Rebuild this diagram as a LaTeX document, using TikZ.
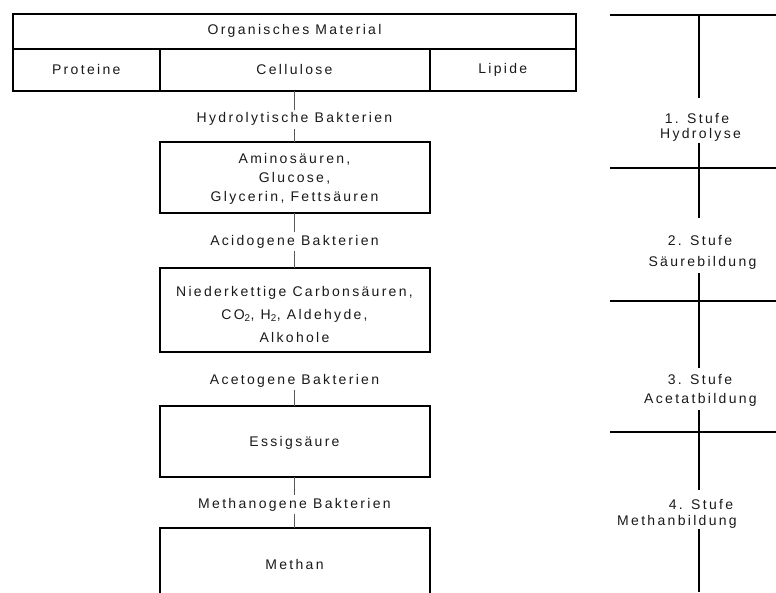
\documentclass[tikz,border=0pt]{standalone}
\usepackage{fontspec}
\newfontfamily\lsfont[LetterSpace=16.5]{Liberation Sans}
\newcommand\diafont{\lsfont\fontsize{14}{19}\selectfont}
\begin{document}
\begin{tikzpicture}[x=1pt,y=-1pt,
  every node/.style={font=\diafont, inner sep=0pt, outer sep=0pt, text=black!90},
  cellbox/.style={draw=black, line width=2pt, minimum height=42.5pt},
  mainbox/.style={draw=black, line width=2pt, minimum width=270pt},
  lbl/.style={anchor=base, inner xsep=2pt, inner ysep=3pt},
  boxtext/.style={anchor=north, align=center},
  conn/.style={draw=black!65, line width=1.2pt},
  gridline/.style={line width=2pt},
  stagetxt/.style={anchor=base}]
\useasboundingbox (0,0) rectangle (776,592);

% top table
\node[cellbox, minimum width=563pt, minimum height=34.5pt] (org) at (294.5,31.25) {Organisches Material};
\node[cellbox, minimum width=146.5pt] (prot) at (86.25,69.75) {Proteine};
\node[cellbox, minimum width=270pt] (cell) at (294.5,69.75) {Cellulose};
\node[cellbox, minimum width=146.5pt] (lip) at (502.75,69.75) {Lipide};

% boxes
\node[mainbox, minimum height=71pt] (b1) at (294.5,177.5) {};
\node[mainbox, minimum height=84pt] (b2) at (294.5,310) {};
\node[mainbox, minimum height=71pt] (b3) at (294.5,441.5) {};
\node[mainbox, minimum height=72pt] (b4) at (294.5,564) {};

\node[boxtext] (t1) at (294.5,153.5) {Aminosäuren,\\Glucose,\\Glycerin, Fettsäuren};
\node[boxtext] (t2) at (294.5,286.2) {Niederkettige Carbonsäuren,\\[4pt]CO\textsubscript{2}, H\textsubscript{2}, Aldehyde,\\[4pt]Alkohole};
\node[boxtext] (t3) at (294.5,436.8) {Essigsäure};
\node[boxtext] (t4) at (294.5,559.5) {Methan};

% bacteria labels
\node[lbl] (l1) at (294.5,122.7) {Hydrolytische Bakterien};
\node[lbl] (l2) at (294.5,245) {Acidogene Bakterien};
\node[lbl] (l3) at (294.5,384) {Acetogene Bakterien};
\node[lbl] (l4) at (294.5,508.3) {Methanogene Bakterien};

% connectors
\draw[conn] (cell) -- (l1) -- (b1);
\draw[conn] (b1) -- (l2) -- (b2);
\draw[conn] (l3) -- (b3);
\draw[conn] (b3) -- (l4) -- (b4);

% right-hand stage grid
\draw[gridline] (610,15) -- (776,15);
\draw[gridline] (610,168) -- (776,168);
\draw[gridline] (610,301) -- (776,301);
\draw[gridline] (610,432) -- (776,432);
\draw[gridline] (699,15) -- (699,98);
\draw[gridline] (699,143) -- (699,218);
\draw[gridline] (699,273) -- (699,368);
\draw[gridline] (699,410) -- (699,490);
\draw[gridline] (699,529) -- (699,592);

\node[stagetxt] (s1a) at (697,123.3) {1. Stufe};
\node[stagetxt] (s1b) at (700.5,138.3) {Hydrolyse};
\node[stagetxt] (s2a) at (700,245) {2. Stufe};
\node[stagetxt] (s2b) at (702.5,266) {Säurebildung};
\node[stagetxt] (s3a) at (700,384) {3. Stufe};
\node[stagetxt] (s3b) at (700.5,403.3) {Acetatbildung};
\node[stagetxt] (s4a) at (701,509.3) {4. Stufe};
\node[stagetxt] (s4b) at (677,525) {Methanbildung};
\end{tikzpicture}
\end{document}
